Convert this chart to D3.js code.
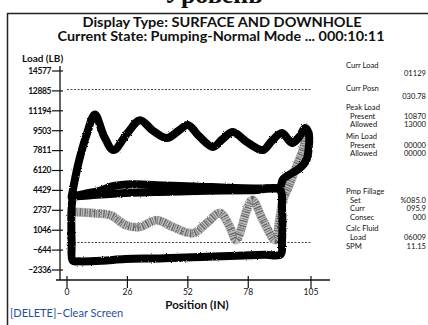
<!DOCTYPE html>
<html>
<head>
<meta charset="utf-8">
<script src="https://cdn.jsdelivr.net/npm/d3@7"></script>
<style>
  body { margin: 0; background: #fff; }
  svg { display: block; }
  text { font-family: Lato, "Open Sans", sans-serif; fill: #111; }
</style>
</head>
<body>
<div id="chart"></div>
<script>
// ---- data ----
var yTicks = [14577, 12885, 11194, 9503, 7811, 6120, 4429, 2737, 1046, -644, -2336];
var xTicks = [0, 26, 52, 78, 105];

var peakAllowed = 13000;
var minAllowed = 0;

// surface card (black loop)
var surfacePos  = [2, 5, 8.5, 12, 16, 20, 26, 31.4, 37, 43, 48, 52, 57, 62.8, 67, 71.4, 77, 84.3, 88, 92.5, 96.8, 100, 102.4, 104, 104, 103, 100, 96, 93, 91.5, 85, 70, 57, 42, 28, 20, 14, 8, 2];
var surfaceLoad = [3900, 6800, 9200, 10870, 9000, 7860, 9300, 10400, 9500, 8880, 9500, 9990, 9000, 8120, 8800, 9390, 8600, 7860, 8600, 9300, 8460, 9000, 9730, 9300, 8000, 7000, 6300, 5800, 5400, 4700, 4600, 4650, 4750, 4850, 4950, 4800, 4400, 4150, 3900];

// downhole card (black loop)
var downholePos  = [2.5, 20, 40, 60, 80, 91.5, 92.5, 92.5, 92, 85, 60, 40, 25, 15, 5, 2.5, 2, 2, 2.5];
var downholeLoad = [3900, 4150, 4300, 4400, 4450, 4500, 3000, 0, -1000, -1050, -1200, -1350, -1400, -1550, -1600, -1550, 0, 3000, 3900];

// pump card (grey)
var pumpPos  = [3.5, 11, 18.5, 25.4, 31, 38.7, 45.6, 54.2, 60.2, 65.8, 70.1, 72.8, 79.6, 84.3, 89.5, 91.6, 93, 96, 99, 101.5, 102.8];
var pumpLoad = [2590, 2500, 2330, 1480, 1310, 1900, 1310, 800, 1660, 2510, 1320, 210, 3610, 1910, 210, 2160, 3610, 5060, 6590, 7860, 9140];

// status panel
var panelLabels = ["Curr Load", "", "Curr Posn", "", "Peak Load", "Present", "Allowed", "Min Load", "Present", "Allowed",
                   "Pmp Fillage", "Set", "Curr", "Consec", "Calc Fluid", "Load", "SPM"];
var panelValues = ["", "01129", "", "030.78", "", "10870", "13000", "", "00000", "00000",
                   "", "%085.0", "095.9", "000", "", "06009", "11.15"];
var panelIndent = [0, 0, 0, 0, 0, 1, 1, 0, 1, 1, 0, 1, 1, 1, 0, 1, 0];

var W = 428, H = 325;

var svg = d3.select("#chart").append("svg").attr("width", W).attr("height", H);

var defs = svg.append("defs");
var f = defs.append("filter").attr("id", "rough").attr("x", "-5%").attr("y", "-5%").attr("width", "110%").attr("height", "110%");
f.append("feTurbulence").attr("type", "fractalNoise").attr("baseFrequency", 0.8).attr("numOctaves", 1).attr("seed", 3).attr("result", "n");
f.append("feDisplacementMap").attr("in", "SourceGraphic").attr("in2", "n").attr("scale", 2.5);

// cut-off heading of the page above
svg.append("text").attr("x", 213).attr("y", 3).attr("text-anchor", "middle")
  .style("font-family", "'Liberation Serif', serif").style("font-weight", "bold").style("font-size", "26px")
  .text("Уровень");

// frame
svg.append("line").attr("x1", 7).attr("x2", W).attr("y1", 13.5).attr("y2", 13.5).attr("stroke", "#222").attr("stroke-width", 1.5);
svg.append("line").attr("x1", 7.5).attr("x2", 7.5).attr("y1", 13).attr("y2", H).attr("stroke", "#222").attr("stroke-width", 1.5);

// titles
svg.append("text").attr("x", 222).attr("y", 27).attr("text-anchor", "middle")
  .attr("textLength", 279).attr("lengthAdjust", "spacingAndGlyphs")
  .style("font-size", "12.5px").style("font-weight", "bold")
  .text("Display Type: SURFACE AND DOWNHOLE");
svg.append("text").attr("x", 221).attr("y", 41).attr("text-anchor", "middle")
  .attr("textLength", 327).attr("lengthAdjust", "spacingAndGlyphs")
  .style("font-size", "12.5px").style("font-weight", "bold")
  .text("Current State: Pumping-Normal Mode ... 000:10:11");

svg.append("text").attr("x", 22).attr("y", 62).style("font-size", "10px").style("font-weight", "bold").text("Load (LB)");

// scales
var x = d3.scaleLinear().domain([0, 105]).range([67, 311]);
var y = d3.scaleLinear().domain([-2336, 14577]).range([270, 71]);
var axisX = 60, axisY = 280;

// y axis
svg.append("line").attr("x1", axisX).attr("x2", axisX).attr("y1", 66).attr("y2", axisY).attr("stroke", "#111").attr("stroke-width", 1.3);
var yt = svg.append("g").selectAll("g").data(yTicks).enter().append("g")
  .attr("transform", function (d) { return "translate(0," + y(d) + ")"; });
yt.append("line").attr("x1", axisX - 8).attr("x2", axisX + 3).attr("stroke", "#111").attr("stroke-width", 1.2);
yt.append("text").attr("x", axisX - 9).attr("dy", "0.33em").attr("text-anchor", "end")
  .style("font-size", "8.5px").style("font-weight", "bold").style("letter-spacing", "-0.4px")
  .text(function (d) { return d < 0 ? "\u2212" + Math.abs(d) : d; });

// x axis
svg.append("line").attr("x1", axisX - 4).attr("x2", 330).attr("y1", axisY).attr("y2", axisY).attr("stroke", "#111").attr("stroke-width", 1.3);
var xt = svg.append("g").selectAll("g").data(xTicks).enter().append("g")
  .attr("transform", function (d) { return "translate(" + x(d) + ",0)"; });
xt.append("line").attr("y1", axisY - 4).attr("y2", axisY + 8).attr("stroke", "#111").attr("stroke-width", 1.2);
xt.append("text").attr("y", axisY + 15).attr("text-anchor", "middle").style("font-size", "8.5px").text(function (d) { return d; });
svg.append("text").attr("x", 197).attr("y", 309).attr("text-anchor", "middle")
  .style("font-size", "11.5px").style("font-weight", "bold").text("Position (IN)");

// limit lines
[peakAllowed, minAllowed].forEach(function (v) {
  svg.append("line").attr("x1", x(0)).attr("x2", x(105)).attr("y1", y(v)).attr("y2", y(v))
    .attr("stroke", "#444").attr("stroke-width", 1).attr("stroke-dasharray", "2,1.5");
});

var line = d3.line().x(function (d) { return x(d[0]); }).y(function (d) { return y(d[1]); }).curve(d3.curveCatmullRom.alpha(0.5));
function pts(p, l) { return p.map(function (v, i) { return [v, l[i]]; }); }

var cards = svg.append("g").attr("filter", "url(#rough)");

// grey pump card
cards.append("path").attr("d", line(pts(pumpPos, pumpLoad))).attr("fill", "none")
  .attr("stroke", "#bdbdbd").attr("stroke-width", 9).attr("stroke-linejoin", "round").attr("stroke-linecap", "round");
cards.append("path").attr("d", line(pts(pumpPos, pumpLoad))).attr("fill", "none")
  .attr("stroke", "#666").attr("stroke-width", 8).attr("stroke-dasharray", "1.3,1.1,0.7,1.6").attr("stroke-linejoin", "round");

// black cards
[pts(surfacePos, surfaceLoad), pts(downholePos, downholeLoad)].forEach(function (c) {
  cards.append("path").attr("d", line(c)).attr("fill", "none")
    .attr("stroke", "#000").attr("stroke-width", 8).attr("stroke-linejoin", "round").attr("stroke-linecap", "round");
});

// status panel
var rowY = [68, 76, 91, 99, 110, 118.5, 127, 139, 147.5, 156, 194, 202.5, 211, 219.5, 231, 240, 249];
var panel = svg.append("g").style("font-size", "7.6px");
panelLabels.forEach(function (t, i) {
  if (t) panel.append("text").attr("x", panelIndent[i] ? 350 : 346).attr("y", rowY[i]).text(t);
  if (panelValues[i]) panel.append("text").attr("x", 426).attr("y", rowY[i]).attr("text-anchor", "end").text(panelValues[i]);
});

svg.append("text").attr("x", 10).attr("y", 317).style("font-size", "11px").style("fill", "#1f4f9c")
  .text("[DELETE]\u2013Clear Screen");
</script>
</body>
</html>
